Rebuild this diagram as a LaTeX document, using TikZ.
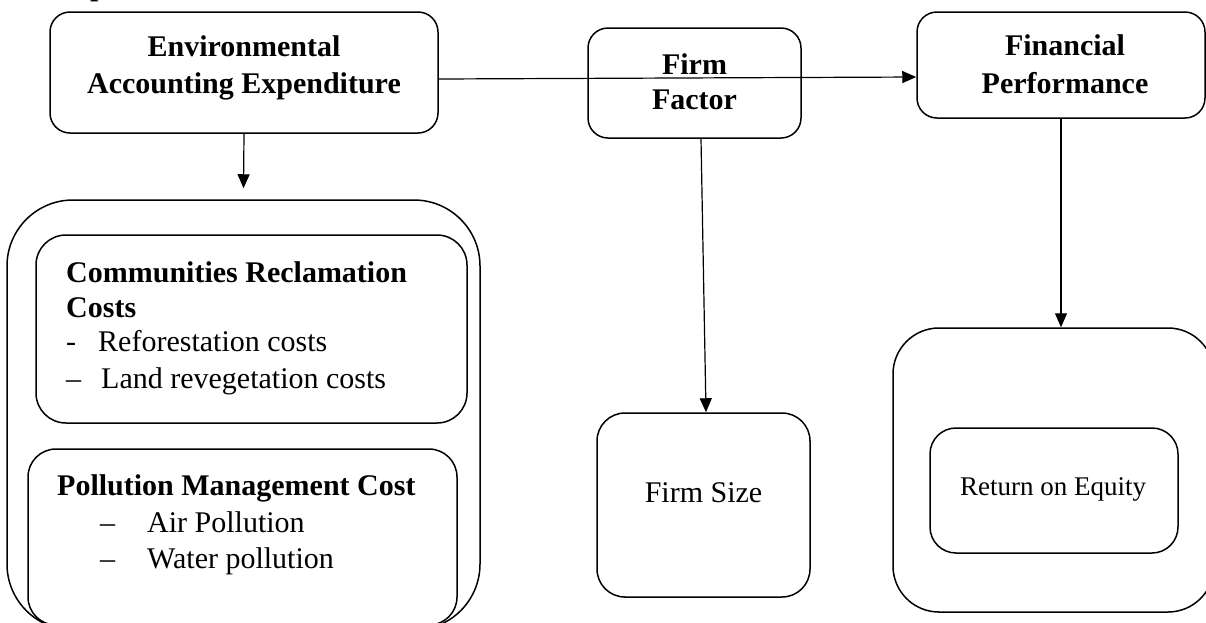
\documentclass[tikz,border=0pt]{standalone}
\usepackage{fontspec}
\setmainfont{Liberation Serif}
\usetikzlibrary{arrows.meta}
\begin{document}
\begin{tikzpicture}[x=1pt,y=-1pt,
  box/.style={draw,line width=1.5pt,rounded corners=#1,inner sep=0pt,shape=rectangle},
  box/.default=20pt,
  bt/.style={font=\fontsize{30}{36}\selectfont\bfseries,inner sep=0pt,anchor=base},
  btl/.style={font=\fontsize{30}{36}\selectfont\bfseries,inner sep=0pt,anchor=base west},
  rt/.style={font=\fontsize{30}{36}\selectfont,inner sep=0pt,anchor=base west},
  rtc/.style={font=\fontsize{#1}{36}\selectfont,inner sep=0pt,anchor=base},
  arr/.style={-{Triangle[length=14pt,width=12pt]},line width=1.2pt}]
\useasboundingbox (0,0) rectangle (1206,622);
\begin{scope}
\clip (0,0) rectangle (1206,622);
% clipped heading fragment
\node[btl] (frag) at (90,-5) {p};
% boxes
\node[box=20pt,minimum width=388pt,minimum height=121pt] (eae) at (244,72.5) {};
\node[box=20pt,minimum width=213pt,minimum height=110pt] (ff) at (694.5,83) {};
\node[box=20pt,minimum width=288pt,minimum height=106pt] (fp) at (1061,65) {};
\node[box=66pt,minimum width=473pt,minimum height=430pt] (outerL) at (243.5,415) {};
\node[box=30pt,minimum width=431pt,minimum height=188pt] (crc) at (251.5,329) {};
\node[box=28pt,minimum width=429pt,minimum height=176pt] (pmc) at (242.5,537) {};
\node[box=28pt,minimum width=213pt,minimum height=184pt] (fs) at (703.5,505) {};
\node[box=46pt,minimum width=321pt,minimum height=284pt] (outerR) at (1053.5,470) {};
\node[box=26pt,minimum width=248pt,minimum height=125pt] (roe) at (1054,490.5) {};
% texts
\node[bt] (t1) at (244,56) {Environmental};
\node[bt] (t2) at (244,93) {Accounting Expenditure};
\node[bt] (t3) at (694.5,74) {Firm};
\node[bt] (t4) at (694.5,109) {Factor};
\node[bt] (t5) at (1065,55) {Financial};
\node[bt] (t6) at (1065,93) {Performance};
\node[btl] (t7) at (66,282) {Communities Reclamation};
\node[btl] (t8) at (66,317) {Costs};
\node[rt] (t9a) at (66,351) {-};
\node[rt] (t9) at (98,351) {Reforestation costs};
\node[rt] (t10a) at (66,388) {–};
\node[rt] (t10) at (101,388) {Land revegetation costs};
\node[btl] (t11) at (57,495) {Pollution Management Cost};
\node[rt] (t12a) at (100,532) {–};
\node[rt] (t12) at (147,532) {Air Pollution};
\node[rt] (t13a) at (100,568) {–};
\node[rt] (t13) at (147,568) {Water pollution};
\node[rtc=30] (t14) at (703.5,502) {Firm Size};
\node[rtc=27] (t15) at (1053,495) {Return on Equity};
% connectors
\draw[arr] ([yshift=-6.5pt]eae.east) -- ([yshift=-12pt]fp.west);
\draw[arr] (eae.south) -- ([yshift=11pt]outerL.north);
\draw[arr] ([xshift=6.5pt]ff.south) -- ([xshift=2.5pt]fs.north);
\draw[arr] (fp.south) -- ([xshift=7.5pt]outerR.north);
\end{scope}
\end{tikzpicture}
\end{document}
